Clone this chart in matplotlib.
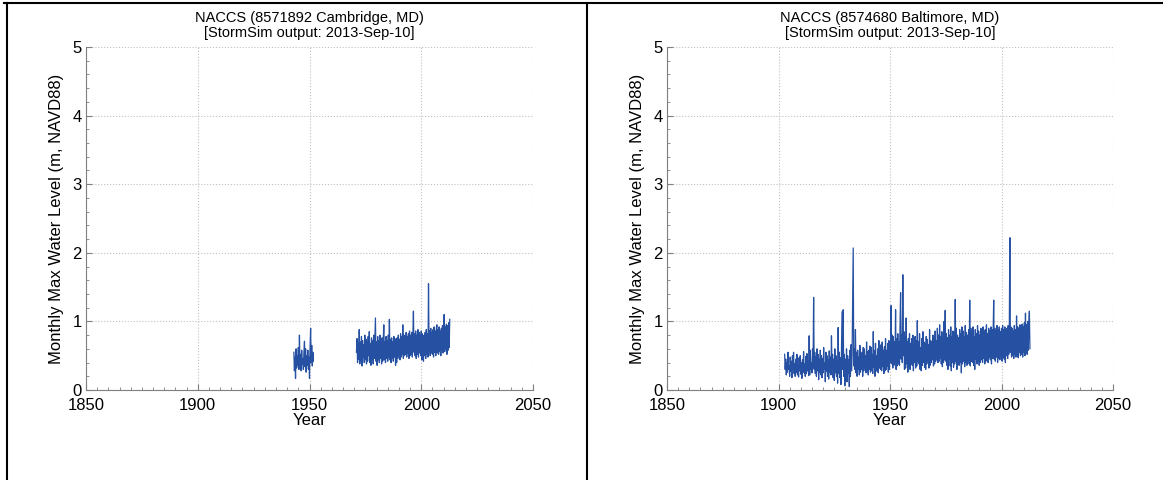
import numpy as np
import matplotlib
matplotlib.use('Agg')
import matplotlib.pyplot as plt
from matplotlib.lines import Line2D
from matplotlib.ticker import MultipleLocator

plt.rcParams['font.family'] = ['Liberation Sans', 'DejaVu Sans']

# quarterly samples of the monthly max water level (m, NAVD88)
cambridge_start_1 = 1943.0
cambridge_level_1 = [
    0.55, 0.28, 0.48, 0.17, 0.60, 0.32, 0.50, 0.36,
    0.62, 0.30, 0.80, 0.35, 0.52, 0.28, 0.58, 0.38,
    0.46, 0.30, 0.55, 0.71, 0.34, 0.60, 0.26, 0.50,
    0.36, 0.58, 0.30, 0.48, 0.17, 0.62, 0.90, 0.40,
    0.65, 0.35, 0.55, 0.42,
]

cambridge_start_2 = 1971.0
cambridge_level_2 = [
    0.55, 0.75, 0.40, 0.68, 0.45, 0.88, 0.38, 0.70,
    0.42, 0.78, 0.35, 0.72, 0.48, 0.66, 0.40, 0.80,
    0.44, 0.74, 0.38, 0.70, 0.42, 0.78, 0.50, 0.85,
    0.40, 0.68, 0.36, 0.76, 0.45, 0.72, 0.38, 0.80,
    0.46, 0.75, 1.05, 0.42, 0.70, 0.36, 0.78, 0.44,
    0.72, 0.40, 0.80, 0.46, 0.68, 0.38, 0.76, 0.42,
    0.74, 0.95, 0.44, 0.70, 0.40, 0.78, 0.46, 0.72,
    0.42, 0.80, 0.48, 1.03, 0.44, 0.74, 0.40, 0.76,
    0.46, 0.70, 0.42, 0.78, 0.48, 0.72, 0.36, 0.75,
    0.40, 0.76, 0.46, 0.80, 0.50, 0.74, 0.44, 0.82,
    0.48, 0.78, 0.52, 0.95, 0.46, 0.80, 0.50, 0.76,
    0.52, 0.84, 0.48, 0.78, 0.54, 0.82, 0.46, 0.86,
    0.50, 0.80, 0.52, 0.84, 0.48, 0.78, 1.15, 0.55,
    0.82, 0.50, 0.86, 0.46, 0.80, 0.52, 0.88, 0.48,
    0.84, 0.54, 0.80, 0.50, 0.86, 0.44, 0.82, 0.52,
    0.42, 0.80, 0.50, 0.84, 0.46, 0.88, 0.52, 0.82,
    0.48, 1.55, 0.56, 0.86, 0.50, 0.90, 0.54, 0.84,
    0.52, 0.88, 0.48, 0.92, 0.55, 0.86, 0.50, 0.90,
    0.95, 0.54, 0.88, 0.52, 0.92, 0.56, 0.86, 0.50,
    0.90, 0.58, 0.94, 0.54, 0.88, 1.10, 0.56, 0.92,
    0.60, 0.96, 0.52, 0.94, 0.58, 0.98, 0.62, 1.03,
]

baltimore_start = 1902.75
baltimore_level = [
    0.52, 0.30, 0.45, 0.22, 0.40, 0.26, 0.55, 0.30,
    0.35, 0.20, 0.48, 0.27, 0.42, 0.18, 0.50, 0.30,
    0.55, 0.24, 0.38, 0.20, 0.45, 0.26, 0.52, 0.22,
    0.36, 0.19, 0.47, 0.28, 0.50, 0.23, 0.40, 0.17,
    0.44, 0.27, 0.56, 0.25, 0.38, 0.20, 0.49, 0.24,
    0.53, 0.28, 0.42, 0.21, 0.79, 0.22, 0.58, 0.30,
    0.40, 0.25, 0.60, 0.33, 1.35, 0.30, 0.55, 0.24,
    0.48, 0.20, 0.60, 0.28, 0.52, 0.15, 0.45, 0.26,
    0.58, 0.22, 0.50, 0.18, 0.46, 0.25, 0.62, 0.30,
    0.40, 0.12, 0.55, 0.27, 0.50, 0.20, 0.44, 0.16,
    0.57, 0.26, 0.48, 0.22, 0.79, 0.30, 0.52, 0.18,
    0.45, 0.14, 0.60, 0.25, 0.50, 0.20, 0.42, 0.10,
    0.91, 0.24, 0.55, 0.18, 0.47, 0.08, 0.62, 1.14,
    0.30, 1.17, 0.20, 0.52, 0.06, 0.45, 0.15, 0.60,
    0.12, 0.50, 0.24, 0.44, 0.05, 0.58, 0.20, 0.66,
    0.28, 0.52, 1.34, 2.07, 0.35, 0.60, 0.30, 0.88,
    0.25, 0.55, 0.20, 0.58, 0.30, 0.48, 0.22, 0.65,
    0.26, 0.52, 0.30, 0.55, 0.20, 0.62, 0.28, 0.60,
    0.32, 0.50, 0.25, 0.70, 0.27, 0.56, 0.22, 0.58,
    0.30, 0.64, 0.26, 0.62, 0.28, 0.52, 0.24, 0.85,
    0.33, 0.57, 0.20, 0.68, 0.30, 0.50, 0.27, 0.60,
    0.25, 0.72, 0.32, 0.55, 0.30, 0.66, 0.28, 0.70,
    0.34, 0.58, 0.24, 0.63, 0.28, 0.75, 0.30, 0.58,
    0.35, 0.68, 0.26, 0.72, 0.30, 0.65, 0.40, 1.23,
    0.38, 0.80, 0.32, 0.78, 0.36, 0.70, 0.40, 1.17,
    0.30, 0.75, 0.35, 0.82, 0.38, 0.70, 0.36, 0.95,
    1.42, 0.45, 0.80, 0.40, 1.68, 0.50, 0.85, 0.30,
    0.78, 0.32, 1.05, 0.38, 0.70, 0.26, 0.75, 0.35,
    0.82, 0.30, 0.68, 0.38, 0.75, 0.36, 0.80, 0.28,
    0.66, 0.40, 0.78, 0.32, 0.72, 0.35, 1.01, 0.42,
    0.70, 0.38, 0.82, 0.30, 0.62, 0.28, 0.75, 0.36,
    0.85, 0.40, 0.70, 0.33, 0.68, 0.30, 0.78, 0.38,
    0.74, 0.42, 0.66, 0.32, 0.88, 0.36, 0.72, 0.40,
    0.70, 0.44, 0.80, 0.35, 0.76, 0.38, 0.86, 0.42,
    0.72, 0.45, 0.90, 0.40, 0.80, 0.42, 0.95, 0.46,
    0.78, 0.38, 0.85, 0.34, 0.74, 0.40, 1.00, 0.44,
    1.16, 0.42, 0.82, 0.36, 0.76, 0.30, 0.88, 0.45,
    0.80, 0.35, 0.92, 0.28, 0.78, 0.40, 0.86, 0.33,
    0.84, 0.38, 1.32, 0.42, 0.90, 0.30, 0.80, 0.44,
    0.76, 0.36, 0.88, 0.40, 0.82, 0.25, 0.92, 0.38,
    0.86, 0.42, 0.78, 0.34, 0.94, 0.40, 0.84, 0.36,
    0.80, 0.44, 0.88, 0.38, 1.31, 0.35, 0.90, 0.42,
    0.84, 0.40, 0.92, 0.36, 0.78, 0.30, 0.88, 0.45,
    0.82, 0.38, 0.94, 0.42, 0.86, 0.36, 0.80, 0.40,
    0.90, 0.44, 0.84, 0.40, 0.92, 0.46, 0.86, 0.38,
    0.88, 0.42, 0.95, 0.45, 0.82, 0.40, 0.90, 0.48,
    0.86, 0.44, 0.92, 0.38, 0.88, 0.46, 0.84, 1.31,
    0.45, 0.90, 0.42, 0.86, 0.48, 0.94, 0.40, 0.88,
    0.46, 0.92, 0.44, 0.85, 0.50, 0.90, 0.42, 0.94,
    0.48, 0.88, 0.45, 0.92, 0.40, 0.86, 0.50, 0.90,
    0.46, 0.94, 0.52, 0.88, 2.22, 0.55, 0.92, 0.48,
    0.90, 0.50, 0.86, 0.46, 0.94, 0.52, 0.88, 0.48,
    1.08, 0.50, 0.92, 0.47, 0.90, 0.55, 0.95, 0.50,
    0.88, 0.52, 0.96, 0.48, 0.92, 0.55, 0.98, 0.50,
    1.12, 0.55, 0.95, 0.52, 1.00, 0.58, 0.96, 1.15,
    0.60,
]

titles = ['NACCS (8571892 Cambridge, MD)\n[StormSim output: 2013-Sep-10]',
          'NACCS (8574680 Baltimore, MD)\n[StormSim output: 2013-Sep-10]']
line_color = '#2650a2'
axis_color = '#7f7f7f'


def years(start, values):
    return start + 0.25 * np.arange(len(values))


def style_axes(ax, title):
    ax.set_xlim(1850, 2050)
    ax.set_ylim(0, 5)
    ax.set_xticks([1850, 1900, 1950, 2000, 2050])
    ax.set_yticks([0, 1, 2, 3, 4, 5])
    ax.xaxis.set_minor_locator(MultipleLocator(5))
    ax.yaxis.set_minor_locator(MultipleLocator(0.2))
    ax.tick_params(which='both', direction='in', colors=axis_color,
                   labelcolor='black', labelsize=12)
    ax.tick_params(axis='x', which='major', pad=6)
    ax.tick_params(axis='y', which='major', pad=3)
    ax.tick_params(which='major', length=4)
    ax.tick_params(which='minor', length=2.5)
    ax.spines['top'].set_visible(False)
    ax.spines['right'].set_visible(False)
    ax.spines['left'].set_color(axis_color)
    ax.spines['bottom'].set_color(axis_color)
    ax.grid(True, which='major', linestyle=':', color='#c0c0c0', linewidth=0.8)
    ax.set_axisbelow(True)
    ax.set_xlabel('Year', fontsize=12, labelpad=0)
    ax.set_ylabel('Monthly Max Water Level (m, NAVD88)', fontsize=12, labelpad=6)
    ax.set_title(title, fontsize=10.5, pad=7, linespacing=1.1)


fig = plt.figure(figsize=(11.63, 4.8), dpi=100)
ax1 = fig.add_axes([86 / 1163, 90 / 480, 447 / 1163, 343 / 480])
ax2 = fig.add_axes([667 / 1163, 90 / 480, 446 / 1163, 343 / 480])

ax1.plot(years(cambridge_start_1, cambridge_level_1), cambridge_level_1, color=line_color, lw=0.9)
ax1.plot(years(cambridge_start_2, cambridge_level_2), cambridge_level_2, color=line_color, lw=0.9)
style_axes(ax1, titles[0])

ax2.plot(years(baltimore_start, baltimore_level), baltimore_level, color=line_color, lw=0.9)
style_axes(ax2, titles[1])

# frame lines around the left panel
fig.add_artist(Line2D([4 / 1163, 1.0], [1 - 3 / 480] * 2, transform=fig.transFigure, color='black', lw=1.5))
fig.add_artist(Line2D([6.5 / 1163] * 2, [0, 1 - 3 / 480], transform=fig.transFigure, color='black', lw=1.5))
fig.add_artist(Line2D([587 / 1163] * 2, [0, 1 - 3 / 480], transform=fig.transFigure, color='black', lw=1.5))

fig.savefig('out.png', dpi=100)
